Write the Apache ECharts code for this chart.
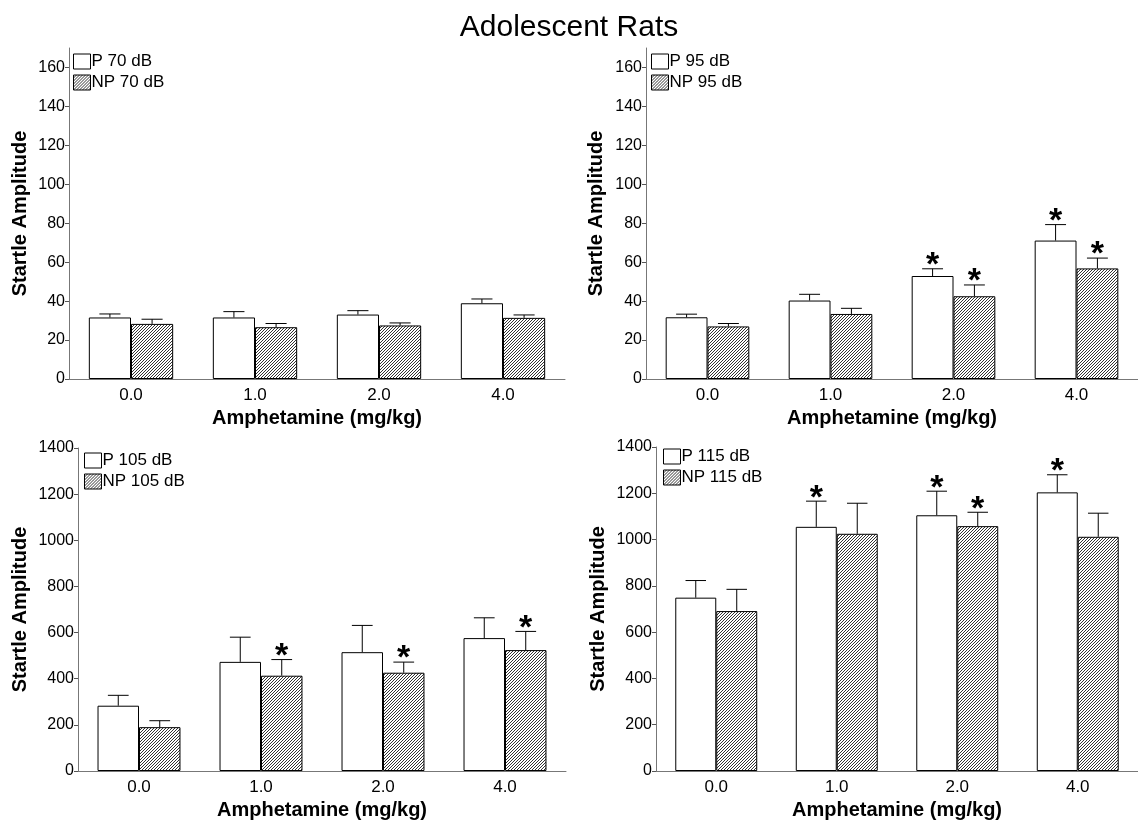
<!DOCTYPE html>
<html>
<head>
<meta charset="utf-8">
<script src="https://cdn.jsdelivr.net/npm/echarts@6/dist/echarts.min.js"></script>
<style>
html, body { margin: 0; padding: 0; background: #fff; }
#main { width: 1138px; height: 821px; }
</style>
</head>
<body>
<div id="main"></div>
<script>
// doses on the x axis
var doses = ['0.0', '1.0', '2.0', '4.0'];

// 70 dB
var p70 = [31.6, 31.6, 33.1, 38.9];
var p70Sem = [1.8, 3.0, 2.0, 2.2];
var np70 = [28.3, 26.6, 27.5, 31.4];
var np70Sem = [2.4, 1.9, 1.3, 1.5];
var p70Star = [0, 0, 0, 0];
var np70Star = [0, 0, 0, 0];

// 95 dB
var p95 = [31.7, 40.3, 52.9, 71.1];
var p95Sem = [1.6, 3.2, 3.7, 8.2];
var np95 = [27.0, 33.4, 42.5, 56.8];
var np95Sem = [1.5, 2.9, 5.8, 5.3];
var p95Star = [0, 0, 1, 1];
var np95Star = [0, 0, 1, 1];

// 105 dB
var p105 = [283, 473, 515, 576];
var p105Sem = [45, 107, 116, 88];
var np105 = [190, 413, 426, 524];
var np105Sem = [28, 70, 46, 81];
var p105Star = [0, 0, 0, 0];
var np105Star = [0, 1, 1, 1];

// 115 dB
var p115 = [749, 1055, 1105, 1204];
var p115Sem = [74, 111, 104, 76];
var np115 = [691, 1025, 1058, 1012];
var np115Sem = [94, 132, 60, 102];
var p115Star = [0, 1, 1, 1];
var np115Star = [0, 0, 1, 0];

var smallTicks = [0, 20, 40, 60, 80, 100, 120, 140, 160];
var bigTicks = [0, 200, 400, 600, 800, 1000, 1200, 1400];

var FONT = '"Liberation Sans", Arial, sans-serif';
var BAR = 0.34;

// hatched fill for NP bars
var hatch = document.createElement('canvas');
hatch.width = 3; hatch.height = 3;
var hc = hatch.getContext('2d');
hc.fillStyle = '#fff';
hc.fillRect(0, 0, 3, 3);
hc.strokeStyle = '#333';
hc.lineWidth = 1;
hc.beginPath();
hc.moveTo(-1, 4); hc.lineTo(4, -1);
hc.moveTo(-1, 1); hc.lineTo(1, -1);
hc.moveTo(2, 4); hc.lineTo(4, 2);
hc.stroke();
var hatchFill = { image: hatch, repeat: 'repeat' };

var panels = [
  { db: '70', p: p70, pSem: p70Sem, pStar: p70Star, np: np70, npSem: np70Sem, npStar: np70Star,
    max: 170, ticks: smallTicks, grid: { left: 69, top: 48, width: 496, height: 331 },
    legend: { left: 73, top: 53 }, nameGap: 39 },
  { db: '95', p: p95, pSem: p95Sem, pStar: p95Star, np: np95, npSem: np95Sem, npStar: np95Star,
    max: 170, ticks: smallTicks, grid: { left: 646, top: 48, width: 496, height: 331 },
    legend: { left: 651, top: 53 }, nameGap: 40 },
  { db: '105', p: p105, pSem: p105Sem, pStar: p105Star, np: np105, npSem: np105Sem, npStar: np105Star,
    max: 1400, ticks: bigTicks, grid: { left: 78, top: 448, width: 488, height: 324 },
    legend: { left: 84, top: 452 }, nameGap: 48 },
  { db: '115', p: p115, pSem: p115Sem, pStar: p115Star, np: np115, npSem: np115Sem, npStar: np115Star,
    max: 1400, ticks: bigTicks, grid: { left: 656, top: 447, width: 486, height: 324 },
    legend: { left: 663, top: 448 }, nameGap: 48 }
];

function errRender(side) {
  return function (params, api) {
    var i = api.value(0), m = api.value(1), e = api.value(2), star = api.value(3);
    var band = api.size([1, 0])[0];
    var off = band * BAR / 2 * side;
    var base = api.coord([i, m]);
    var top = api.coord([i, m + e]);
    var x = base[0] + off;
    var cap = band * BAR / 4;
    var kids = [
      { type: 'line', shape: { x1: x, y1: base[1], x2: x, y2: top[1] }, style: { stroke: '#000', lineWidth: 1 } },
      { type: 'line', shape: { x1: x - cap, y1: top[1], x2: x + cap, y2: top[1] }, style: { stroke: '#000', lineWidth: 1 } }
    ];
    if (star) {
      kids.push({ type: 'text', x: x, y: top[1] - 20,
        style: { text: '*', fontSize: 34, fontWeight: 'bold', fontFamily: FONT, fill: '#000', align: 'center', verticalAlign: 'top' } });
    }
    return { type: 'group', children: kids };
  };
}

function rows(vals, sem, star) {
  return vals.map(function (v, i) { return [i, v, sem[i], star[i]]; });
}

var option = {
  animation: false,
  backgroundColor: '#fff',
  title: { text: 'Adolescent Rats', left: 'center', top: 8,
    textStyle: { fontSize: 30, fontWeight: 'normal', fontFamily: FONT, color: '#000' } },
  grid: [], xAxis: [], yAxis: [], legend: [], series: []
};

panels.forEach(function (pn, k) {
  option.grid.push(pn.grid);
  option.xAxis.push({
    type: 'category', gridIndex: k, data: doses,
    name: 'Amphetamine (mg/kg)', nameLocation: 'middle', nameGap: 29,
    nameTextStyle: { fontSize: 20, fontWeight: 'bold', fontFamily: FONT, color: '#000' },
    axisLine: { lineStyle: { color: '#777', width: 1 } },
    axisTick: { show: false },
    axisLabel: { fontSize: 17, fontFamily: FONT, color: '#000', margin: 8 }
  });
  option.yAxis.push({
    type: 'value', gridIndex: k, min: 0, max: pn.max,
    name: 'Startle Amplitude', nameLocation: 'middle', nameGap: pn.nameGap,
    nameTextStyle: { fontSize: 20, fontWeight: 'bold', fontFamily: FONT, color: '#000' },
    axisLine: { show: true, lineStyle: { color: '#777', width: 1 } },
    axisTick: { show: true, length: 4, customValues: pn.ticks, lineStyle: { color: '#555' } },
    axisLabel: { fontSize: 16, fontFamily: FONT, color: '#000', margin: 4, customValues: pn.ticks,
      formatter: function (v) { return String(v); } },
    splitLine: { show: false }
  });
  var pName = 'P ' + pn.db + ' dB', npName = 'NP ' + pn.db + ' dB';
  option.legend.push({
    data: [pName, npName], orient: 'vertical', left: pn.legend.left, top: pn.legend.top,
    icon: 'rect', itemWidth: 17, itemHeight: 15, itemGap: 4, padding: 0,
    itemStyle: { borderWidth: 1, borderColor: '#000' },
    textStyle: { fontSize: 17, fontFamily: FONT, color: '#000', padding: [0, 0, 0, -4] }
  });
  option.series.push({
    name: pName, type: 'bar', xAxisIndex: k, yAxisIndex: k, data: pn.p,
    barWidth: (BAR * 100) + '%', barGap: '0%',
    itemStyle: { color: '#fff', borderColor: '#000', borderWidth: 1 }
  });
  option.series.push({
    name: npName, type: 'bar', xAxisIndex: k, yAxisIndex: k, data: pn.np,
    barWidth: (BAR * 100) + '%', barGap: '0%',
    itemStyle: { color: hatchFill, borderColor: '#000', borderWidth: 1 }
  });
  option.series.push({
    type: 'custom', xAxisIndex: k, yAxisIndex: k, z: 5,
    data: rows(pn.p, pn.pSem, pn.pStar), renderItem: errRender(-1), encode: { x: 0, y: 1 }
  });
  option.series.push({
    type: 'custom', xAxisIndex: k, yAxisIndex: k, z: 5,
    data: rows(pn.np, pn.npSem, pn.npStar), renderItem: errRender(1), encode: { x: 0, y: 1 }
  });
});

var chart = echarts.init(document.getElementById('main'));
chart.setOption(option);
</script>
</body>
</html>
